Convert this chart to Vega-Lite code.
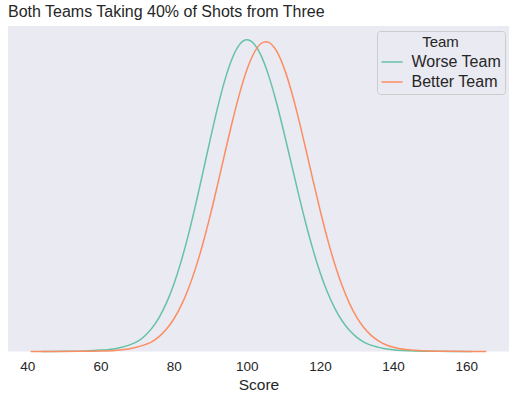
{
  "$schema": "https://vega.github.io/schema/vega-lite/v6.json",
  "width": 501,
  "height": 325.5,
  "autosize": {"type": "none"},
  "padding": {"left": 8, "top": 26, "right": 7, "bottom": 46.5},
  "background": "white",
  "title": {
    "text": "Both Teams Taking 40% of Shots from Three",
    "anchor": "start",
    "frame": "group",
    "baseline": "alphabetic",
    "offset": 7.7,
    "dy": 15,
    "font": "Liberation Sans",
    "fontSize": 16,
    "fontWeight": "normal",
    "color": "#262626"
  },
  "config": {
    "view": {"fill": "#EAEAF2", "stroke": null},
    "font": "Liberation Sans"
  },
  "datasets": {
    "worse": [
      {"team": "Worse Team", "score": 43.8, "density": 0.000003},
      {"team": "Worse Team", "score": 50, "density": 0.00002},
      {"team": "Worse Team", "score": 56, "density": 0.00006},
      {"team": "Worse Team", "score": 60, "density": 0.00015},
      {"team": "Worse Team", "score": 64, "density": 0.0003},
      {"team": "Worse Team", "score": 68, "density": 0.00072},
      {"team": "Worse Team", "score": 70, "density": 0.00106},
      {"team": "Worse Team", "score": 72, "density": 0.00166},
      {"team": "Worse Team", "score": 74, "density": 0.00251},
      {"team": "Worse Team", "score": 76, "density": 0.00368},
      {"team": "Worse Team", "score": 78, "density": 0.00525},
      {"team": "Worse Team", "score": 80, "density": 0.00725},
      {"team": "Worse Team", "score": 82, "density": 0.00972},
      {"team": "Worse Team", "score": 84, "density": 0.01262},
      {"team": "Worse Team", "score": 86, "density": 0.0159},
      {"team": "Worse Team", "score": 88, "density": 0.01943},
      {"team": "Worse Team", "score": 90, "density": 0.023},
      {"team": "Worse Team", "score": 92, "density": 0.02642},
      {"team": "Worse Team", "score": 94, "density": 0.02943},
      {"team": "Worse Team", "score": 96, "density": 0.03178},
      {"team": "Worse Team", "score": 98, "density": 0.03328},
      {"team": "Worse Team", "score": 100, "density": 0.0338},
      {"team": "Worse Team", "score": 102, "density": 0.03334},
      {"team": "Worse Team", "score": 104, "density": 0.032},
      {"team": "Worse Team", "score": 106, "density": 0.02989},
      {"team": "Worse Team", "score": 108, "density": 0.02716},
      {"team": "Worse Team", "score": 110, "density": 0.02402},
      {"team": "Worse Team", "score": 112, "density": 0.02067},
      {"team": "Worse Team", "score": 114, "density": 0.01731},
      {"team": "Worse Team", "score": 116, "density": 0.0141},
      {"team": "Worse Team", "score": 118, "density": 0.01118},
      {"team": "Worse Team", "score": 120, "density": 0.00862},
      {"team": "Worse Team", "score": 122, "density": 0.00647},
      {"team": "Worse Team", "score": 124, "density": 0.00473},
      {"team": "Worse Team", "score": 126, "density": 0.00336},
      {"team": "Worse Team", "score": 128, "density": 0.00232},
      {"team": "Worse Team", "score": 130, "density": 0.00156},
      {"team": "Worse Team", "score": 132, "density": 0.00102},
      {"team": "Worse Team", "score": 136, "density": 0.00045},
      {"team": "Worse Team", "score": 140, "density": 0.00018},
      {"team": "Worse Team", "score": 146, "density": 0.00005},
      {"team": "Worse Team", "score": 152, "density": 0.00002},
      {"team": "Worse Team", "score": 158, "density": 0.00001},
      {"team": "Worse Team", "score": 161.5, "density": 0.000003}
    ],
    "better": [
      {"team": "Better Team", "score": 40.9, "density": 0.000005},
      {"team": "Better Team", "score": 48, "density": 0.00001},
      {"team": "Better Team", "score": 54, "density": 0.00002},
      {"team": "Better Team", "score": 60, "density": 0.00005},
      {"team": "Better Team", "score": 64, "density": 0.00012},
      {"team": "Better Team", "score": 68, "density": 0.0003},
      {"team": "Better Team", "score": 72, "density": 0.00072},
      {"team": "Better Team", "score": 74, "density": 0.00105},
      {"team": "Better Team", "score": 76, "density": 0.00161},
      {"team": "Better Team", "score": 78, "density": 0.00241},
      {"team": "Better Team", "score": 80, "density": 0.0035},
      {"team": "Better Team", "score": 82, "density": 0.00494},
      {"team": "Better Team", "score": 84, "density": 0.00678},
      {"team": "Better Team", "score": 86, "density": 0.00904},
      {"team": "Better Team", "score": 88, "density": 0.01172},
      {"team": "Better Team", "score": 90, "density": 0.01476},
      {"team": "Better Team", "score": 92, "density": 0.01807},
      {"team": "Better Team", "score": 94, "density": 0.0215},
      {"team": "Better Team", "score": 96, "density": 0.02486},
      {"team": "Better Team", "score": 98, "density": 0.02794},
      {"team": "Better Team", "score": 100, "density": 0.03052},
      {"team": "Better Team", "score": 102, "density": 0.0324},
      {"team": "Better Team", "score": 104, "density": 0.03343},
      {"team": "Better Team", "score": 105.2, "density": 0.0336},
      {"team": "Better Team", "score": 106, "density": 0.03352},
      {"team": "Better Team", "score": 108, "density": 0.03268},
      {"team": "Better Team", "score": 110, "density": 0.03095},
      {"team": "Better Team", "score": 112, "density": 0.0285},
      {"team": "Better Team", "score": 114, "density": 0.0255},
      {"team": "Better Team", "score": 116, "density": 0.02218},
      {"team": "Better Team", "score": 118, "density": 0.01875},
      {"team": "Better Team", "score": 120, "density": 0.0154},
      {"team": "Better Team", "score": 122, "density": 0.0123},
      {"team": "Better Team", "score": 124, "density": 0.00955},
      {"team": "Better Team", "score": 126, "density": 0.0072},
      {"team": "Better Team", "score": 128, "density": 0.00528},
      {"team": "Better Team", "score": 130, "density": 0.00376},
      {"team": "Better Team", "score": 132, "density": 0.0026},
      {"team": "Better Team", "score": 134, "density": 0.00175},
      {"team": "Better Team", "score": 136, "density": 0.00115},
      {"team": "Better Team", "score": 138, "density": 0.00073},
      {"team": "Better Team", "score": 142, "density": 0.0003},
      {"team": "Better Team", "score": 146, "density": 0.00013},
      {"team": "Better Team", "score": 150, "density": 0.00005},
      {"team": "Better Team", "score": 156, "density": 0.00002},
      {"team": "Better Team", "score": 165.5, "density": 0.000005}
    ]
  },
  "encoding": {
    "x": {
      "field": "score",
      "type": "quantitative",
      "title": "Score",
      "scale": {"domain": [34.7, 171.7], "nice": false, "zero": false},
      "axis": {
        "values": [40, 60, 80, 100, 120, 140, 160],
        "grid": false,
        "ticks": false,
        "domain": false,
        "labelPadding": 7.5,
        "labelFontSize": 13.5,
        "labelColor": "#262626",
        "labelFont": "Liberation Sans",
        "titleFont": "Liberation Sans",
        "titleFontSize": 15.5,
        "titleFontWeight": "normal",
        "titleColor": "#262626",
        "titlePadding": 5
      }
    },
    "y": {
      "field": "density",
      "type": "quantitative",
      "scale": {"domain": [0, 0.0353], "nice": false},
      "axis": null
    },
    "color": {
      "field": "team",
      "type": "nominal",
      "scale": {"domain": ["Worse Team", "Better Team"], "range": ["#66c2a5", "#fc8d62"]},
      "legend": {
        "title": "Team",
        "orient": "top-right",
        "offset": 4.5,
        "padding": 3.5,
        "fillColor": "#EAEAF2",
        "strokeColor": "#cccccc",
        "cornerRadius": 3,
        "symbolType": "stroke",
        "symbolSize": 441,
        "symbolStrokeWidth": 1.5,
        "labelFont": "Liberation Sans",
        "labelFontSize": 16,
        "labelColor": "#262626",
        "titleFont": "Liberation Sans",
        "titleFontSize": 15,
        "titleFontWeight": "normal",
        "titleColor": "#262626",
        "titleAnchor": "middle",
        "titleAlign": "center",
        "titlePadding": 1,
        "rowPadding": -1,
        "labelOffset": 8
      }
    }
  },
  "layer": [
    {
      "data": {"name": "worse"},
      "mark": {"type": "line", "strokeWidth": 1.5, "interpolate": "monotone"}
    },
    {
      "data": {"name": "better"},
      "mark": {"type": "line", "strokeWidth": 1.5, "interpolate": "monotone"}
    }
  ]
}
